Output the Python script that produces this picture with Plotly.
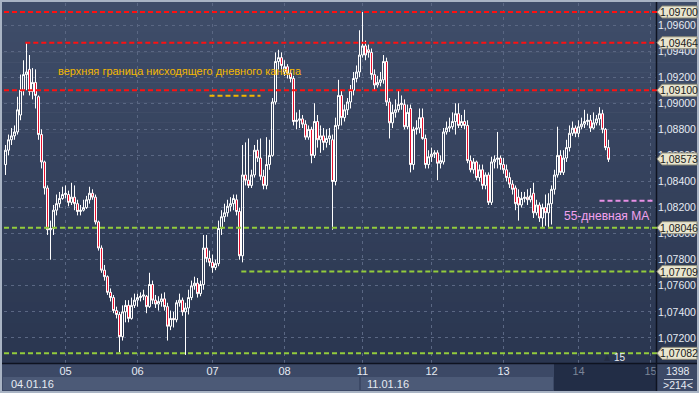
import plotly.graph_objects as go

# ---------------- data (EUR/USD hourly) ----------------
open_ = [1.0853,1.0864,1.0872,1.0875,1.0878,1.0891,1.0910,1.0922,1.0926,1.0909,
 1.0916,1.0905,1.0876,1.0855,1.0835,1.0803,1.0804,1.0818,1.0823,1.0827,
 1.0830,1.0830,1.0824,1.0828,1.0823,1.0817,1.0818,1.0820,1.0826,1.0831,
 1.0828,1.0809,1.0789,1.0772,1.0767,1.0755,1.0751,1.0741,1.0738,1.0721,
 1.0740,1.0745,1.0735,1.0745,1.0749,1.0751,1.0752,1.0752,1.0744,1.0761,
 1.0749,1.0746,1.0748,1.0750,1.0744,1.0729,1.0735,1.0734,1.0747,1.0749,
 1.0740,1.0743,1.0751,1.0760,1.0762,1.0754,1.0761,1.0789,1.0781,1.0778,
 1.0774,1.0777,1.0804,1.0813,1.0816,1.0821,1.0823,1.0826,1.0817,1.0783,
 1.0845,1.0841,1.0837,1.0845,1.0864,1.0858,1.0844,1.0837,1.0853,1.0860,
 1.0901,1.0932,1.0935,1.0924,1.0928,1.0923,1.0919,1.0886,1.0887,1.0888,
 1.0884,1.0874,1.0880,1.0860,1.0886,1.0872,1.0875,1.0870,1.0873,1.0872,
 1.0840,1.0883,1.0906,1.0889,1.0895,1.0901,1.0910,1.0919,1.0924,1.0937,
 1.0944,1.0941,1.0939,1.0922,1.0914,1.0916,1.0918,1.0932,1.0901,1.0885,
 1.0893,1.0895,1.0899,1.0899,1.0882,1.0896,1.0853,1.0880,1.0881,1.0889,
 1.0873,1.0853,1.0859,1.0861,1.0862,1.0854,1.0855,1.0878,1.0881,1.0882,
 1.0886,1.0892,1.0883,1.0886,1.0883,1.0856,1.0849,1.0855,1.0843,1.0849,
 1.0837,1.0845,1.0824,1.0855,1.0857,1.0858,1.0853,1.0849,1.0843,1.0838,
 1.0835,1.0828,1.0822,1.0827,1.0828,1.0826,1.0831,1.0816,1.0822,1.0812,
 1.0820,1.0816,1.0823,1.0834,1.0845,1.0860,1.0847,1.0858,1.0866,1.0877,
 1.0881,1.0877,1.0882,1.0884,1.0886,1.0887,1.0881,1.0885,1.0888,1.0892,
 1.0880,1.0866]
high = [1.0868,1.0876,1.0881,1.0883,1.0905,1.0922,1.0933,1.0947,1.0937,1.0927,
 1.0926,1.0906,1.0880,1.0856,1.0837,1.0810,1.0822,1.0830,1.0832,1.0836,
 1.0837,1.0833,1.0839,1.0837,1.0826,1.0822,1.0826,1.0829,1.0836,1.0834,
 1.0830,1.0810,1.0791,1.0776,1.0768,1.0758,1.0753,1.0744,1.0740,1.0745,
 1.0749,1.0749,1.0751,1.0754,1.0754,1.0755,1.0757,1.0753,1.0770,1.0764,
 1.0753,1.0752,1.0754,1.0755,1.0747,1.0741,1.0740,1.0749,1.0754,1.0751,
 1.0747,1.0757,1.0764,1.0767,1.0766,1.0764,1.0799,1.0799,1.0787,1.0784,
 1.0780,1.0810,1.0818,1.0823,1.0826,1.0828,1.0830,1.0830,1.0820,1.0868,
 1.0870,1.0873,1.0849,1.0868,1.0872,1.0873,1.0849,1.0874,1.0872,1.0904,
 1.0939,1.0941,1.0939,1.0933,1.0930,1.0926,1.0921,1.0893,1.0895,1.0891,
 1.0887,1.0883,1.0882,1.0900,1.0891,1.0883,1.0881,1.0880,1.0881,1.0876,
 1.0889,1.0918,1.0910,1.0899,1.0904,1.0914,1.0924,1.0929,1.0956,1.0970,
 1.0948,1.0945,1.0942,1.0926,1.0921,1.0924,1.0937,1.0935,1.0904,1.0899,
 1.0903,1.0910,1.0906,1.0903,1.0899,1.0899,1.0882,1.0887,1.0896,1.0896,
 1.0876,1.0864,1.0866,1.0864,1.0864,1.0860,1.0881,1.0886,1.0889,1.0893,
 1.0900,1.0900,1.0891,1.0895,1.0887,1.0860,1.0858,1.0856,1.0853,1.0853,
 1.0847,1.0847,1.0859,1.0860,1.0878,1.0860,1.0858,1.0853,1.0847,1.0841,
 1.0837,1.0834,1.0832,1.0832,1.0834,1.0835,1.0839,1.0826,1.0824,1.0823,
 1.0830,1.0831,1.0837,1.0849,1.0882,1.0864,1.0864,1.0872,1.0883,1.0886,
 1.0883,1.0887,1.0889,1.0895,1.0892,1.0891,1.0893,1.0891,1.0897,1.0895,
 1.0881,1.0872]
low = [1.0845,1.0860,1.0868,1.0872,1.0876,1.0887,1.0906,1.0910,1.0906,1.0903,
 1.0896,1.0872,1.0850,1.0830,1.0799,1.0780,1.0799,1.0814,1.0820,1.0826,
 1.0827,1.0821,1.0822,1.0818,1.0814,1.0814,1.0817,1.0819,1.0823,1.0826,
 1.0807,1.0787,1.0770,1.0764,1.0753,1.0748,1.0739,1.0735,1.0709,1.0718,
 1.0732,1.0732,1.0734,1.0743,1.0744,1.0748,1.0749,1.0739,1.0743,1.0746,
 1.0743,1.0741,1.0744,1.0741,1.0718,1.0726,1.0728,1.0732,1.0744,1.0737,
 1.0707,1.0738,1.0749,1.0757,1.0751,1.0752,1.0757,1.0778,1.0775,1.0770,
 1.0772,1.0775,1.0799,1.0809,1.0813,1.0817,1.0818,1.0814,1.0780,1.0778,
 1.0837,1.0835,1.0835,1.0843,1.0855,1.0841,1.0834,1.0834,1.0849,1.0859,
 1.0899,1.0926,1.0926,1.0921,1.0919,1.0916,1.0883,1.0880,1.0881,1.0881,
 1.0872,1.0872,1.0854,1.0858,1.0866,1.0862,1.0864,1.0866,1.0868,1.0803,
 1.0837,1.0880,1.0883,1.0886,1.0891,1.0896,1.0906,1.0916,1.0920,1.0935,
 1.0933,1.0935,1.0918,1.0910,1.0912,1.0913,1.0915,1.0898,1.0873,1.0881,
 1.0889,1.0893,1.0895,1.0880,1.0880,1.0847,1.0849,1.0876,1.0877,1.0872,
 1.0850,1.0850,1.0855,1.0858,1.0841,1.0850,1.0853,1.0876,1.0878,1.0880,
 1.0876,1.0881,1.0881,1.0880,1.0854,1.0847,1.0846,1.0841,1.0840,1.0834,
 1.0834,1.0822,1.0822,1.0850,1.0850,1.0849,1.0846,1.0840,1.0835,1.0830,
 1.0818,1.0810,1.0820,1.0824,1.0822,1.0824,1.0812,1.0814,1.0809,1.0805,
 1.0806,1.0805,1.0807,1.0830,1.0843,1.0845,1.0845,1.0855,1.0863,1.0875,
 1.0874,1.0874,1.0880,1.0881,1.0883,1.0878,1.0880,1.0883,1.0883,1.0877,
 1.0864,1.0855]
close = [1.0864,1.0872,1.0875,1.0878,1.0895,1.0910,1.0922,1.0924,1.0909,1.0916,
 1.0906,1.0876,1.0855,1.0835,1.0803,1.0804,1.0818,1.0823,1.0827,1.0830,
 1.0831,1.0824,1.0828,1.0823,1.0817,1.0818,1.0820,1.0826,1.0831,1.0828,
 1.0809,1.0789,1.0772,1.0767,1.0755,1.0751,1.0741,1.0738,1.0721,1.0740,
 1.0745,1.0735,1.0745,1.0749,1.0751,1.0752,1.0753,1.0744,1.0761,1.0749,
 1.0746,1.0748,1.0750,1.0744,1.0729,1.0735,1.0734,1.0747,1.0749,1.0740,
 1.0743,1.0751,1.0760,1.0762,1.0754,1.0761,1.0789,1.0781,1.0778,1.0774,
 1.0777,1.0804,1.0813,1.0816,1.0821,1.0823,1.0827,1.0817,1.0783,1.0845,
 1.0841,1.0837,1.0845,1.0864,1.0858,1.0844,1.0837,1.0853,1.0860,1.0901,
 1.0932,1.0935,1.0929,1.0928,1.0923,1.0919,1.0886,1.0887,1.0888,1.0884,
 1.0874,1.0880,1.0860,1.0886,1.0872,1.0875,1.0870,1.0873,1.0875,1.0840,
 1.0883,1.0906,1.0889,1.0895,1.0901,1.0910,1.0919,1.0924,1.0937,1.0944,
 1.0937,1.0939,1.0922,1.0914,1.0916,1.0918,1.0932,1.0901,1.0885,1.0893,
 1.0895,1.0899,1.0900,1.0882,1.0893,1.0853,1.0880,1.0881,1.0889,1.0873,
 1.0853,1.0859,1.0861,1.0862,1.0854,1.0856,1.0878,1.0881,1.0882,1.0886,
 1.0892,1.0883,1.0886,1.0883,1.0856,1.0849,1.0855,1.0843,1.0849,1.0837,
 1.0845,1.0824,1.0855,1.0857,1.0858,1.0853,1.0849,1.0843,1.0838,1.0834,
 1.0823,1.0822,1.0827,1.0828,1.0826,1.0829,1.0816,1.0822,1.0812,1.0820,
 1.0816,1.0823,1.0834,1.0845,1.0860,1.0847,1.0858,1.0866,1.0877,1.0881,
 1.0877,1.0882,1.0884,1.0886,1.0887,1.0881,1.0885,1.0888,1.0892,1.0880,
 1.0866,1.0857]

day_labels = ["05", "06", "07", "08", "11", "12", "13", "14", "15"]
day_start_bar = [20, 44, 69, 93, 119, 142, 166, 191, 215]
week_labels = ["04.01.16", "11.01.16"]

resistance_levels = [1.09700, 1.09464, 1.09100]
support_levels = [1.08046, 1.07709, 1.07082]
level_start_bar = {1.09700: 0, 1.09464: 7, 1.09100: 0, 1.08046: 0, 1.07709: 79, 1.07082: 0}
channel_level = 1.09058          # orange mark of the daily channel
channel_bars = [68, 85]
ma55_level = 1.08253             # 55-day moving average
ma55_bars = [198, 216]
tag_prices = [1.09700, 1.09464, 1.09100, 1.08573, 1.08046, 1.07709, 1.07082]
label_channel = "верхняя граница нисходящего дневного канала"
label_ma = "55-дневная МА"
corner_top = "1398"
corner_bottom = ">214<"

# ---------------- layout geometry ----------------
W, H = 699, 393
ML, MR, MT, MB = 4, 42, 3, 30
PW = W - ML - MR
PH = H - MT - MB
XMIN = -0.5
XMAX = PW / 3.0 - 0.5
YMIN, YMAX = 1.07008, 1.09769
DPX = (YMAX - YMIN) / PH


def px(x):
    return (x - ML) / PW


def py(y):
    return (H - MB - y) / PH


bars = list(range(len(close)))

fig = go.Figure()
fig.add_trace(go.Candlestick(
    x=bars, open=open_, high=high, low=low, close=close,
    increasing=dict(line=dict(color="#ffffff", width=1), fillcolor="rgba(0,0,0,0)"),
    decreasing=dict(line=dict(color="#ffffff", width=1), fillcolor="#e8102e"),
    whiskerwidth=0, hoverinfo="skip", showlegend=False,
))

shapes = []
# background gradient (plot + price panel)
top_c = (63, 77, 105)
bot_c = (42, 54, 80)
n = 36
y0p, y1p = 2, 363
for k in range(n):
    t = k / (n - 1)
    c = tuple(int(round(top_c[j] + (bot_c[j] - top_c[j]) * t)) for j in range(3))
    ya = y0p + (y1p - y0p) * k / n
    yb = y0p + (y1p - y0p) * (k + 1) / n
    shapes.append(dict(type="rect", xref="paper", yref="paper", layer="below",
                       x0=px(2), x1=px(697), y0=py(yb + 0.5), y1=py(ya),
                       fillcolor="rgb(%d,%d,%d)" % c, line=dict(width=0)))
# bottom panel
shapes.append(dict(type="rect", xref="paper", yref="paper", layer="below",
                   x0=px(2), x1=px(697), y0=py(391), y1=py(363),
                   fillcolor="#3c4966", line=dict(width=0)))
for xa, xb in [(3, 359), (361, 553)]:
    shapes.append(dict(type="rect", xref="paper", yref="paper", layer="below",
                       x0=px(xa), x1=px(xb), y0=py(390), y1=py(377),
                       fillcolor="#4c5a77", line=dict(width=0)))
shapes.append(dict(type="rect", xref="paper", yref="paper", layer="below",
                   x0=px(554), x1=px(656), y0=py(391), y1=py(364),
                   fillcolor="#222d46", line=dict(width=0)))
# frame lines
shapes.append(dict(type="line", xref="paper", yref="paper", layer="above",
                   x0=px(2), x1=px(697), y0=py(363.5), y1=py(363.5),
                   line=dict(color="#0e1320", width=1.5)))
shapes.append(dict(type="line", xref="paper", yref="paper", layer="above",
                   x0=px(656.5), x1=px(656.5), y0=py(391), y1=py(2),
                   line=dict(color="#0e1320", width=1.5)))
shapes.append(dict(type="line", xref="paper", yref="paper", layer="above",
                   x0=px(664), x1=px(693), y0=py(379.5), y1=py(379.5),
                   line=dict(color="#c8d0dc", width=1)))

# level lines
for lv in resistance_levels:
    shapes.append(dict(type="line", xref="x", yref="y", layer="above",
                       x0=level_start_bar[lv] - 0.4 if level_start_bar[lv] else XMIN, x1=XMAX,
                       y0=lv, y1=lv,
                       line=dict(color="#ff1010", width=2, dash="5px,3px")))
for lv in support_levels:
    shapes.append(dict(type="line", xref="x", yref="y", layer="above",
                       x0=level_start_bar[lv] - 0.4 if level_start_bar[lv] else XMIN, x1=XMAX,
                       y0=lv, y1=lv,
                       line=dict(color="#93cc3c", width=2, dash="5px,3px")))
shapes.append(dict(type="line", xref="x", yref="y", layer="above",
                   x0=channel_bars[0], x1=channel_bars[1], y0=channel_level, y1=channel_level,
                   line=dict(color="#f2b600", width=2, dash="5px,3px")))
shapes.append(dict(type="line", xref="x", yref="y", layer="above",
                   x0=ma55_bars[0], x1=ma55_bars[1], y0=ma55_level, y1=ma55_level,
                   line=dict(color="#e890e6", width=2, dash="5px,3px")))

# price tags
hh = 6.0 * DPX
for p in tag_prices:
    path = "M %f,%f L %f,%f L %f,%f L %f,%f L %f,%f Z" % (
        px(657), p, px(662), p + hh, px(697), p + hh, px(697), p - hh, px(662), p - hh)
    shapes.append(dict(type="path", xref="paper", yref="y", layer="above", path=path,
                       fillcolor="#e9e6cf", line=dict(color="#8d8b7a", width=1)))

annotations = []
for p in tag_prices:
    annotations.append(dict(xref="paper", yref="y", x=px(679.5), y=p, xanchor="center",
                            yanchor="middle", showarrow=False,
                            text=("%.5f" % p).replace(".", ","),
                            font=dict(family="Liberation Sans", size=10.5, color="#1a1a1a")))
annotations.append(dict(xref="paper", yref="y", x=px(56), y=YMAX - 67.5 * DPX,
                        xanchor="left", yanchor="middle", showarrow=False, text=label_channel,
                        font=dict(family="Liberation Sans", size=11, color="#f5b800")))
annotations.append(dict(xref="paper", yref="y", x=px(562), y=YMAX - 213 * DPX,
                        xanchor="left", yanchor="middle", showarrow=False, text=label_ma,
                        font=dict(family="Liberation Sans", size=12, color="#f2a2ee")))
annotations.append(dict(xref="paper", yref="paper", x=px(9), y=py(383.5), xanchor="left",
                        yanchor="middle", showarrow=False, text=week_labels[0],
                        font=dict(family="Liberation Sans", size=11, color="#e6ebf3")))
annotations.append(dict(xref="paper", yref="paper", x=px(365), y=py(383.5), xanchor="left",
                        yanchor="middle", showarrow=False, text=week_labels[1],
                        font=dict(family="Liberation Sans", size=11, color="#e6ebf3")))
annotations.append(dict(xref="paper", yref="paper", x=px(678), y=py(371), xanchor="center",
                        yanchor="middle", showarrow=False, text=corner_top,
                        font=dict(family="Liberation Sans", size=10.5, color="#e6ebf3")))
annotations.append(dict(xref="paper", yref="paper", x=px(678), y=py(385), xanchor="center",
                        yanchor="middle", showarrow=False, text=corner_bottom,
                        font=dict(family="Liberation Sans", size=10.5, color="#e6ebf3")))
annotations.append(dict(xref="paper", yref="paper", x=px(620), y=py(357), xanchor="center",
                        yanchor="middle", showarrow=False, text="15",
                        font=dict(family="Liberation Sans", size=10, color="#e6ebf3")))
annotations.append(dict(xref="paper", yref="paper", x=px(607), y=py(357), xanchor="center",
                        yanchor="middle", showarrow=False, text="▲",
                        font=dict(family="DejaVu Sans", size=8, color="#252e44")))

tick_text = []
for lab in day_labels:
    if lab in ("14", "15"):
        tick_text.append('<span style="color:#7b8598">%s</span>' % lab)
    else:
        tick_text.append(lab)

fig.update_layout(
    width=W, height=H, autosize=False,
    margin=dict(l=ML, r=MR, t=MT, b=MB, pad=0),
    paper_bgcolor="#a9b4c4", plot_bgcolor="rgba(0,0,0,0)",
    separators=", ",
    boxgap=1.0 / 3, boxgroupgap=0,
    shapes=shapes, annotations=annotations,
    xaxis=dict(range=[XMIN, XMAX], rangeslider=dict(visible=False),
               tickmode="array", tickvals=day_start_bar, ticktext=tick_text,
               showgrid=True, gridcolor="#5a6783", griddash="3px,4px", gridwidth=1,
               zeroline=False, showline=False, ticks="",
               tickfont=dict(family="Liberation Sans", size=11, color="#e6ebf3")),
    yaxis=dict(range=[YMIN, YMAX], side="right", tickmode="linear", tick0=1.072, dtick=0.002,
               tickformat=".5f", showgrid=True, gridcolor="#5a6783", griddash="3px,4px",
               gridwidth=1, zeroline=False, showline=False, ticks="",
               tickfont=dict(family="Liberation Sans", size=10.5, color="#e6ebf3")),
    hovermode=False,
)

fig.write_html("out.html")
